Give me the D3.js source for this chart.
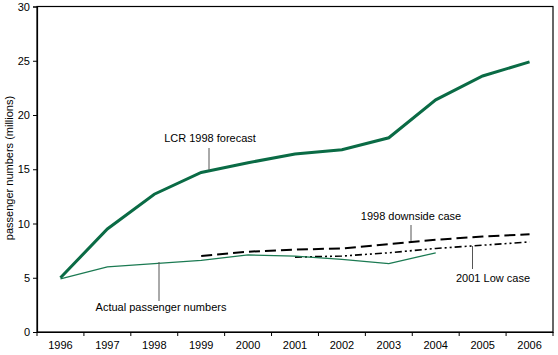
<!DOCTYPE html>
<html><head><meta charset="utf-8">
<script src="https://cdn.jsdelivr.net/npm/d3@7"></script>
<style>body{margin:0;background:#fff}svg{display:block}text{font-family:Arial,"Liberation Sans",sans-serif}</style>
</head><body>
<svg id="c" width="558" height="355"></svg>
<script>
const years = ["1996","1997","1998","1999","2000","2001","2002","2003","2004","2005","2006"];
const yTicks = [0,5,10,15,20,25,30];
const lcrForecast = [5.0,9.5,12.7,14.7,15.6,16.4,16.8,17.9,21.4,23.6,24.9];
const actual = [4.9,6.0,6.3,6.6,7.1,7.0,6.7,6.3,7.3,null,null];
const downside1998 = [null,null,null,7.0,7.4,7.6,7.7,8.1,8.5,8.8,9.0];
const lowCase2001 = [null,null,null,null,null,6.9,7.0,7.3,7.7,8.0,8.3];

const svg = d3.select("#c");
const L=37, T=6.5, R=553, B=332;
const x = d3.scaleBand().domain(years).range([L,R]);
const y = d3.scaleLinear().domain([0,30]).range([B,T]);
const cx = d => x(d)+x.bandwidth()/2;

// frame
svg.append("rect").attr("x",L).attr("y",T).attr("width",R-L).attr("height",B-T)
  .attr("fill","none").attr("stroke","#000").attr("stroke-width",1.2);

const yAx = svg.append("g").attr("transform",`translate(${L},0)`)
  .call(d3.axisLeft(y).tickValues(yTicks).tickSize(4).tickPadding(3));
const xAx = svg.append("g").attr("transform",`translate(0,${B})`)
  .call(d3.axisBottom(x).tickSize(0).tickPadding(9));
[yAx,xAx].forEach(g=>{g.selectAll("text").attr("font-size",11).attr("fill","#000");
  g.select(".domain").attr("stroke","#000").attr("stroke-width",1.2);
  g.selectAll("line").attr("stroke","#000");});
// x boundary ticks
svg.append("g").selectAll("line").data(years.slice(1)).join("line")
  .attr("x1",d=>x(d)).attr("x2",d=>x(d)).attr("y1",B).attr("y2",B+4).attr("stroke","#000");
svg.append("line").attr("x1",L).attr("x2",L).attr("y1",B).attr("y2",B+4).attr("stroke","#000");
svg.append("line").attr("x1",R).attr("x2",R).attr("y1",B).attr("y2",B+4).attr("stroke","#000");

svg.append("text").attr("transform","translate(13,168) rotate(-90)")
  .attr("text-anchor","middle").attr("font-size",11).text("passenger numbers (millions)");

const line = d3.line().defined(d=>d[1]!=null).x(d=>cx(d[0])).y(d=>y(d[1]));
const pairs = arr => years.map((yr,i)=>[yr,arr[i]]);

svg.append("path").datum(pairs(downside1998)).attr("d",line).attr("fill","none")
  .attr("stroke","#000").attr("stroke-width",2).attr("stroke-dasharray","11,5");
svg.append("path").datum(pairs(lowCase2001)).attr("d",line).attr("fill","none")
  .attr("stroke","#000").attr("stroke-width",1.6).attr("stroke-dasharray","7,3,2,3,2,3");
svg.append("path").datum(pairs(actual)).attr("d",line).attr("fill","none")
  .attr("stroke","#1b7a52").attr("stroke-width",1.3);
svg.append("path").datum(pairs(lcrForecast)).attr("d",line).attr("fill","none")
  .attr("stroke","#0a6b45").attr("stroke-width",3);

// annotations
function leader(x1,y1,x2,y2){svg.append("line").attr("x1",x1).attr("y1",y1).attr("x2",x2).attr("y2",y2)
  .attr("stroke","#555").attr("stroke-width",1);}
function label(xx,yy,t,anchor){svg.append("text").attr("x",xx).attr("y",yy).attr("font-size",11)
  .attr("text-anchor",anchor||"middle").text(t);}
label(210,142,"LCR 1998 forecast"); leader(209,148,209,170);
label(161,311,"Actual passenger numbers"); leader(159,262,159,301);
label(411,220,"1998 downside case"); leader(411,225,411,241);
label(493,282,"2001 Low case"); leader(472.5,246,472.5,269);
</script>
</body></html>
